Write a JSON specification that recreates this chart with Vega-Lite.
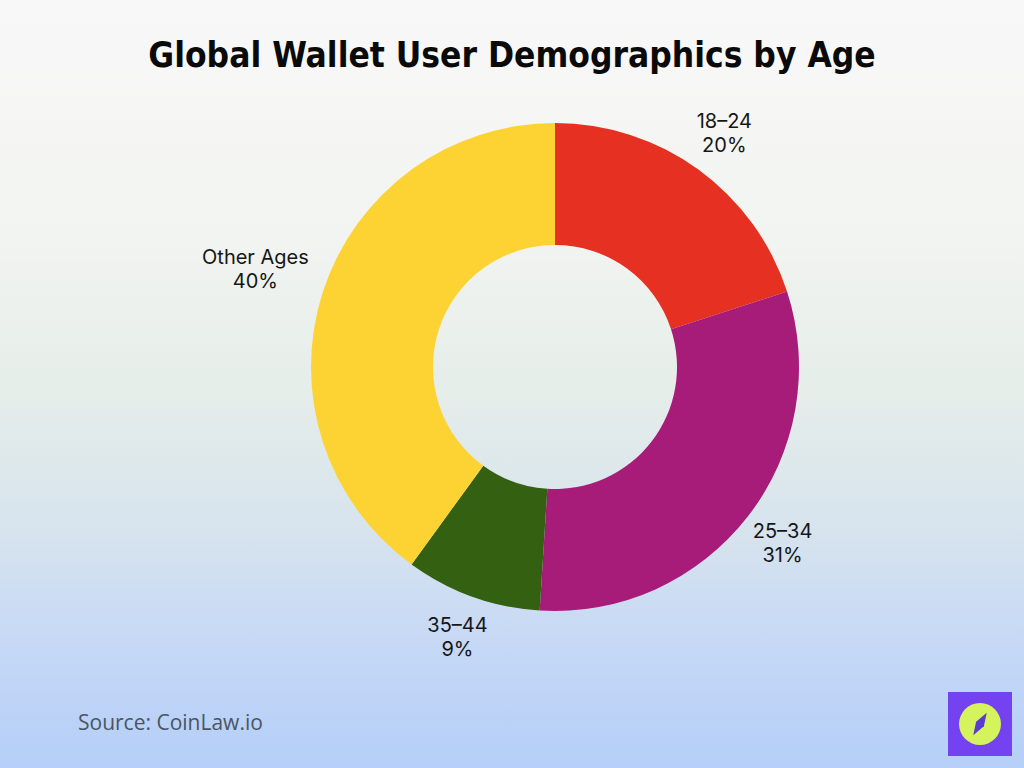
{
  "$schema": "https://vega.github.io/schema/vega-lite/v6.json",
  "width": 1024,
  "height": 768,
  "autosize": {"type": "none"},
  "padding": 0,
  "background": "#f3f4f2",
  "config": {"view": {"stroke": null}},
  "title": {
    "text": "Global Wallet User Demographics by Age",
    "font": "'DejaVu Sans Condensed', 'Roboto Condensed', 'Liberation Sans Narrow', Roboto, sans-serif",
    "fontWeight": "bold",
    "fontSize": 35,
    "color": "#0a0a0a",
    "anchor": "middle",
    "offset": -74,
    "zindex": 1
  },
  "datasets": {
    "ages": [
      {"age": "18–24", "share": 0.20},
      {"age": "25–34", "share": 0.31},
      {"age": "35–44", "share": 0.09},
      {"age": "Other Ages", "share": 0.40}
    ]
  },
  "layer": [
    {
      "data": {"values": [{}]},
      "mark": {
        "type": "rect",
        "fill": {
          "gradient": "linear",
          "x1": 0, "y1": 0, "x2": 0, "y2": 1,
          "stops": [
            {"offset": 0, "color": "#f8f8f8"},
            {"offset": 0.3, "color": "#f2f4f1"},
            {"offset": 0.5, "color": "#e6eee9"},
            {"offset": 0.7, "color": "#d6e3ee"},
            {"offset": 0.85, "color": "#c4d7f6"},
            {"offset": 1, "color": "#b5cff8"}
          ]
        }
      },
      "encoding": {}
    },
    {
      "data": {"name": "ages"},
      "mark": {"type": "arc", "outerRadius": 244, "innerRadius": 122, "xOffset": 43, "yOffset": -17},
      "encoding": {
        "theta": {"field": "share", "type": "quantitative", "stack": true},
        "color": {
          "field": "age",
          "type": "nominal",
          "scale": {
            "domain": ["18–24", "25–34", "35–44", "Other Ages"],
            "range": ["#e63122", "#a71c79", "#336111", "#fdd333"]
          },
          "legend": null
        },
        "order": {"field": "age", "sort": "ascending"}
      }
    },
    {
      "data": {"name": "ages"},
      "mark": {"type": "text", "font": "Inter", "fontSize": 20, "color": "#161616", "dy": -12, "xOffset": 43, "yOffset": -17,
        "radius": {"expr": "datum.age === 'Other Ages' ? 315 : 288"}},
      "encoding": {
        "theta": {"field": "share", "type": "quantitative", "stack": true},
        "order": {"field": "age", "sort": "ascending"},
        "text": {"field": "age", "type": "nominal"}
      }
    },
    {
      "data": {"name": "ages"},
      "mark": {"type": "text", "font": "Inter", "fontSize": 20, "color": "#161616", "dy": 12, "xOffset": 43, "yOffset": -17,
        "radius": {"expr": "datum.age === 'Other Ages' ? 315 : 288"}},
      "encoding": {
        "theta": {"field": "share", "type": "quantitative", "stack": true},
        "order": {"field": "age", "sort": "ascending"},
        "text": {"field": "share", "type": "quantitative", "format": ".0%"}
      }
    },
    {
      "data": {"values": [{}]},
      "mark": {"type": "text", "font": "Open Sans", "fontSize": 21, "color": "#4b5563", "align": "left", "baseline": "middle"},
      "encoding": {
        "x": {"value": 78},
        "y": {"value": 724},
        "text": {"value": "Source: CoinLaw.io"}
      }
    },
    {
      "data": {"values": [{}]},
      "mark": {"type": "point", "shape": "square", "size": 4096, "filled": true, "color": "#7442f0", "opacity": 1},
      "encoding": {"x": {"value": 980}, "y": {"value": 724}}
    },
    {
      "data": {"values": [{}]},
      "mark": {"type": "point", "shape": "circle", "size": 1764, "filled": true, "color": "#d4f35c", "opacity": 1},
      "encoding": {"x": {"value": 980}, "y": {"value": 724}}
    },
    {
      "data": {"values": [{}]},
      "mark": {"type": "point", "shape": "M -0.45 0.75 L -0.26 -0.15 L 0.45 -0.75 L 0.26 0.15 Z", "size": 900, "filled": true, "color": "#5b3bd6", "opacity": 1},
      "encoding": {"x": {"value": 980}, "y": {"value": 724}}
    }
  ]
}
